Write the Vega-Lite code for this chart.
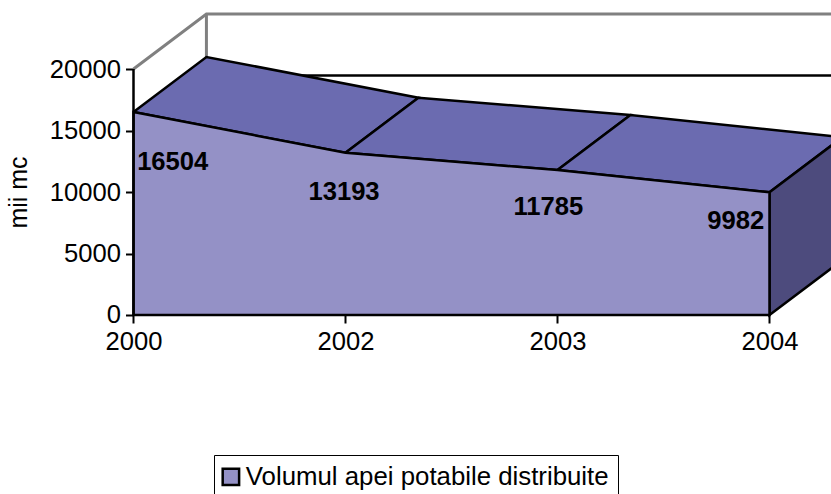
{
"$schema":"https://vega.github.io/schema/vega-lite/v6.json",
"width":831,"height":494,"padding":0,"autosize":{"type":"none"},
"background":"#ffffff",
"config":{"view":{"stroke":null},"font":"Liberation Sans"},
"datasets":{
"series":[
{"idx":0,"year":"2000","v":16504,"lx":0.185,"ly":12420,"serie":"Volumul apei potabile distribuite"},
{"idx":1,"year":"2002","v":13193,"lx":0.993,"ly":9970,"serie":"Volumul apei potabile distribuite"},
{"idx":2,"year":"2003","v":11785,"lx":1.957,"ly":8750,"serie":"Volumul apei potabile distribuite"},
{"idx":3,"year":"2004","v":9982,"lx":2.841,"ly":7620,"serie":"Volumul apei potabile distribuite"}],
"faces":[
{"f":"top1","o":0,"x":0,"y":16504},{"f":"top1","o":1,"x":0.344,"y":20976},{"f":"top1","o":2,"x":1.344,"y":17665},{"f":"top1","o":3,"x":1,"y":13193},{"f":"top1","o":4,"x":0,"y":16504},
{"f":"top2","o":0,"x":1,"y":13193},{"f":"top2","o":1,"x":1.344,"y":17665},{"f":"top2","o":2,"x":2.344,"y":16257},{"f":"top2","o":3,"x":2,"y":11785},{"f":"top2","o":4,"x":1,"y":13193},
{"f":"top3","o":0,"x":2,"y":11785},{"f":"top3","o":1,"x":2.344,"y":16257},{"f":"top3","o":2,"x":3.344,"y":14454},{"f":"top3","o":3,"x":3,"y":9982},{"f":"top3","o":4,"x":2,"y":11785}],
"side":[
{"f":"right","o":0,"x":3,"y":9982},{"f":"right","o":1,"x":3.344,"y":14454},{"f":"right","o":2,"x":3.344,"y":4472},{"f":"right","o":3,"x":3,"y":0},{"f":"right","o":4,"x":3,"y":9982}],
"wall":[
{"o":0,"x":0,"y":20000},{"o":1,"x":0.344,"y":24472},{"o":2,"x":3.344,"y":24472}],
"wall2":[
{"o":0,"x":0.344,"y":24472},{"o":1,"x":0.344,"y":20976}],
"back":[
{"o":0,"x":0.344,"y":19472},{"o":1,"x":3.344,"y":19472}],
"yaxis":[
{"o":0,"x":0,"y":0},{"o":1,"x":0,"y":20000}]
},
"encoding":{
"x":{"field":"x","type":"quantitative","scale":{"domain":[-0.6297,3.2901],"nice":false,"zero":false},
 "axis":{"orient":"bottom","offset":-179,"values":[0,1,2,3],"labelExpr":"['2000','2002','2003','2004'][datum.value]","domain":false,"grid":false,"title":null,"tickColor":"#000","tickSize":8,"tickWidth":2,"labelColor":"#000","labelFontSize":25.6,"labelFont":"Liberation Sans","labelPadding":6,"labelOverlap":false,"labelFlush":false}},
"y":{"field":"y","type":"quantitative","scale":{"domain":[-14553,25610],"nice":false,"zero":false},
 "axis":{"orient":"left","offset":-133.5,"values":[0,5000,10000,15000,20000],"format":"d","domain":false,"grid":false,"title":"mii mc","titleFontSize":25,"titleFont":"Liberation Sans","titleFontWeight":"normal","titleColor":"#000","titleX":-102,"titleY":192,"tickColor":"#000","tickSize":8,"tickWidth":2,"labelColor":"#000","labelFontSize":25.6,"labelFont":"Liberation Sans","labelPadding":5,"labelOverlap":false}}
},
"layer":[
{"data":{"name":"wall"},"mark":{"type":"line","stroke":"#808080","strokeWidth":3,"clip":true},"encoding":{"order":{"field":"o"}}},
{"data":{"name":"wall2"},"mark":{"type":"line","stroke":"#808080","strokeWidth":3,"clip":true},"encoding":{"order":{"field":"o"}}},
{"data":{"name":"back"},"mark":{"type":"line","stroke":"#000000","strokeWidth":2.5,"clip":true},"encoding":{"order":{"field":"o"}}},
{"data":{"name":"faces"},"mark":{"type":"line","fill":"#6B6BB0","stroke":"#000000","strokeWidth":2.5,"clip":true},"encoding":{"detail":{"field":"f"},"order":{"field":"o"}}},
{"data":{"name":"side"},"mark":{"type":"line","fill":"#4D4B7D","stroke":"#000000","strokeWidth":2.5,"clip":true},"encoding":{"order":{"field":"o"}}},
{"data":{"name":"series"},"mark":{"type":"area","stroke":"#000000","strokeWidth":2.5,"clip":true},
 "encoding":{"x":{"field":"idx","type":"quantitative"},"y":{"field":"v","type":"quantitative"},"y2":{"datum":0},
 "fill":{"field":"serie","type":"nominal","scale":{"range":["#9491C6"]},
 "legend":{"orient":"none","legendX":214,"legendY":455,"title":null,"direction":"vertical","strokeColor":"#000","padding":9,"symbolType":"square","symbolSize":270,"symbolOffset":-5,"symbolStrokeColor":"#000","symbolStrokeWidth":2.5,"labelFontSize":25.8,"labelFont":"Liberation Sans","labelColor":"#000","labelOffset":2,"labelLimit":500,"labelExpr":"datum.label + '\u00a0'","fillColor":"#fff"}}}},
{"data":{"name":"yaxis"},"mark":{"type":"line","stroke":"#000000","strokeWidth":2.5},"encoding":{"order":{"field":"o"}}},
{"data":{"name":"series"},"mark":{"type":"text","font":"Liberation Sans","fontWeight":"bold","fontSize":25.6,"color":"#000","align":"center","baseline":"middle"},
 "encoding":{"x":{"field":"lx","type":"quantitative"},"y":{"field":"ly","type":"quantitative"},"text":{"field":"v","type":"nominal"}}}
]
}
